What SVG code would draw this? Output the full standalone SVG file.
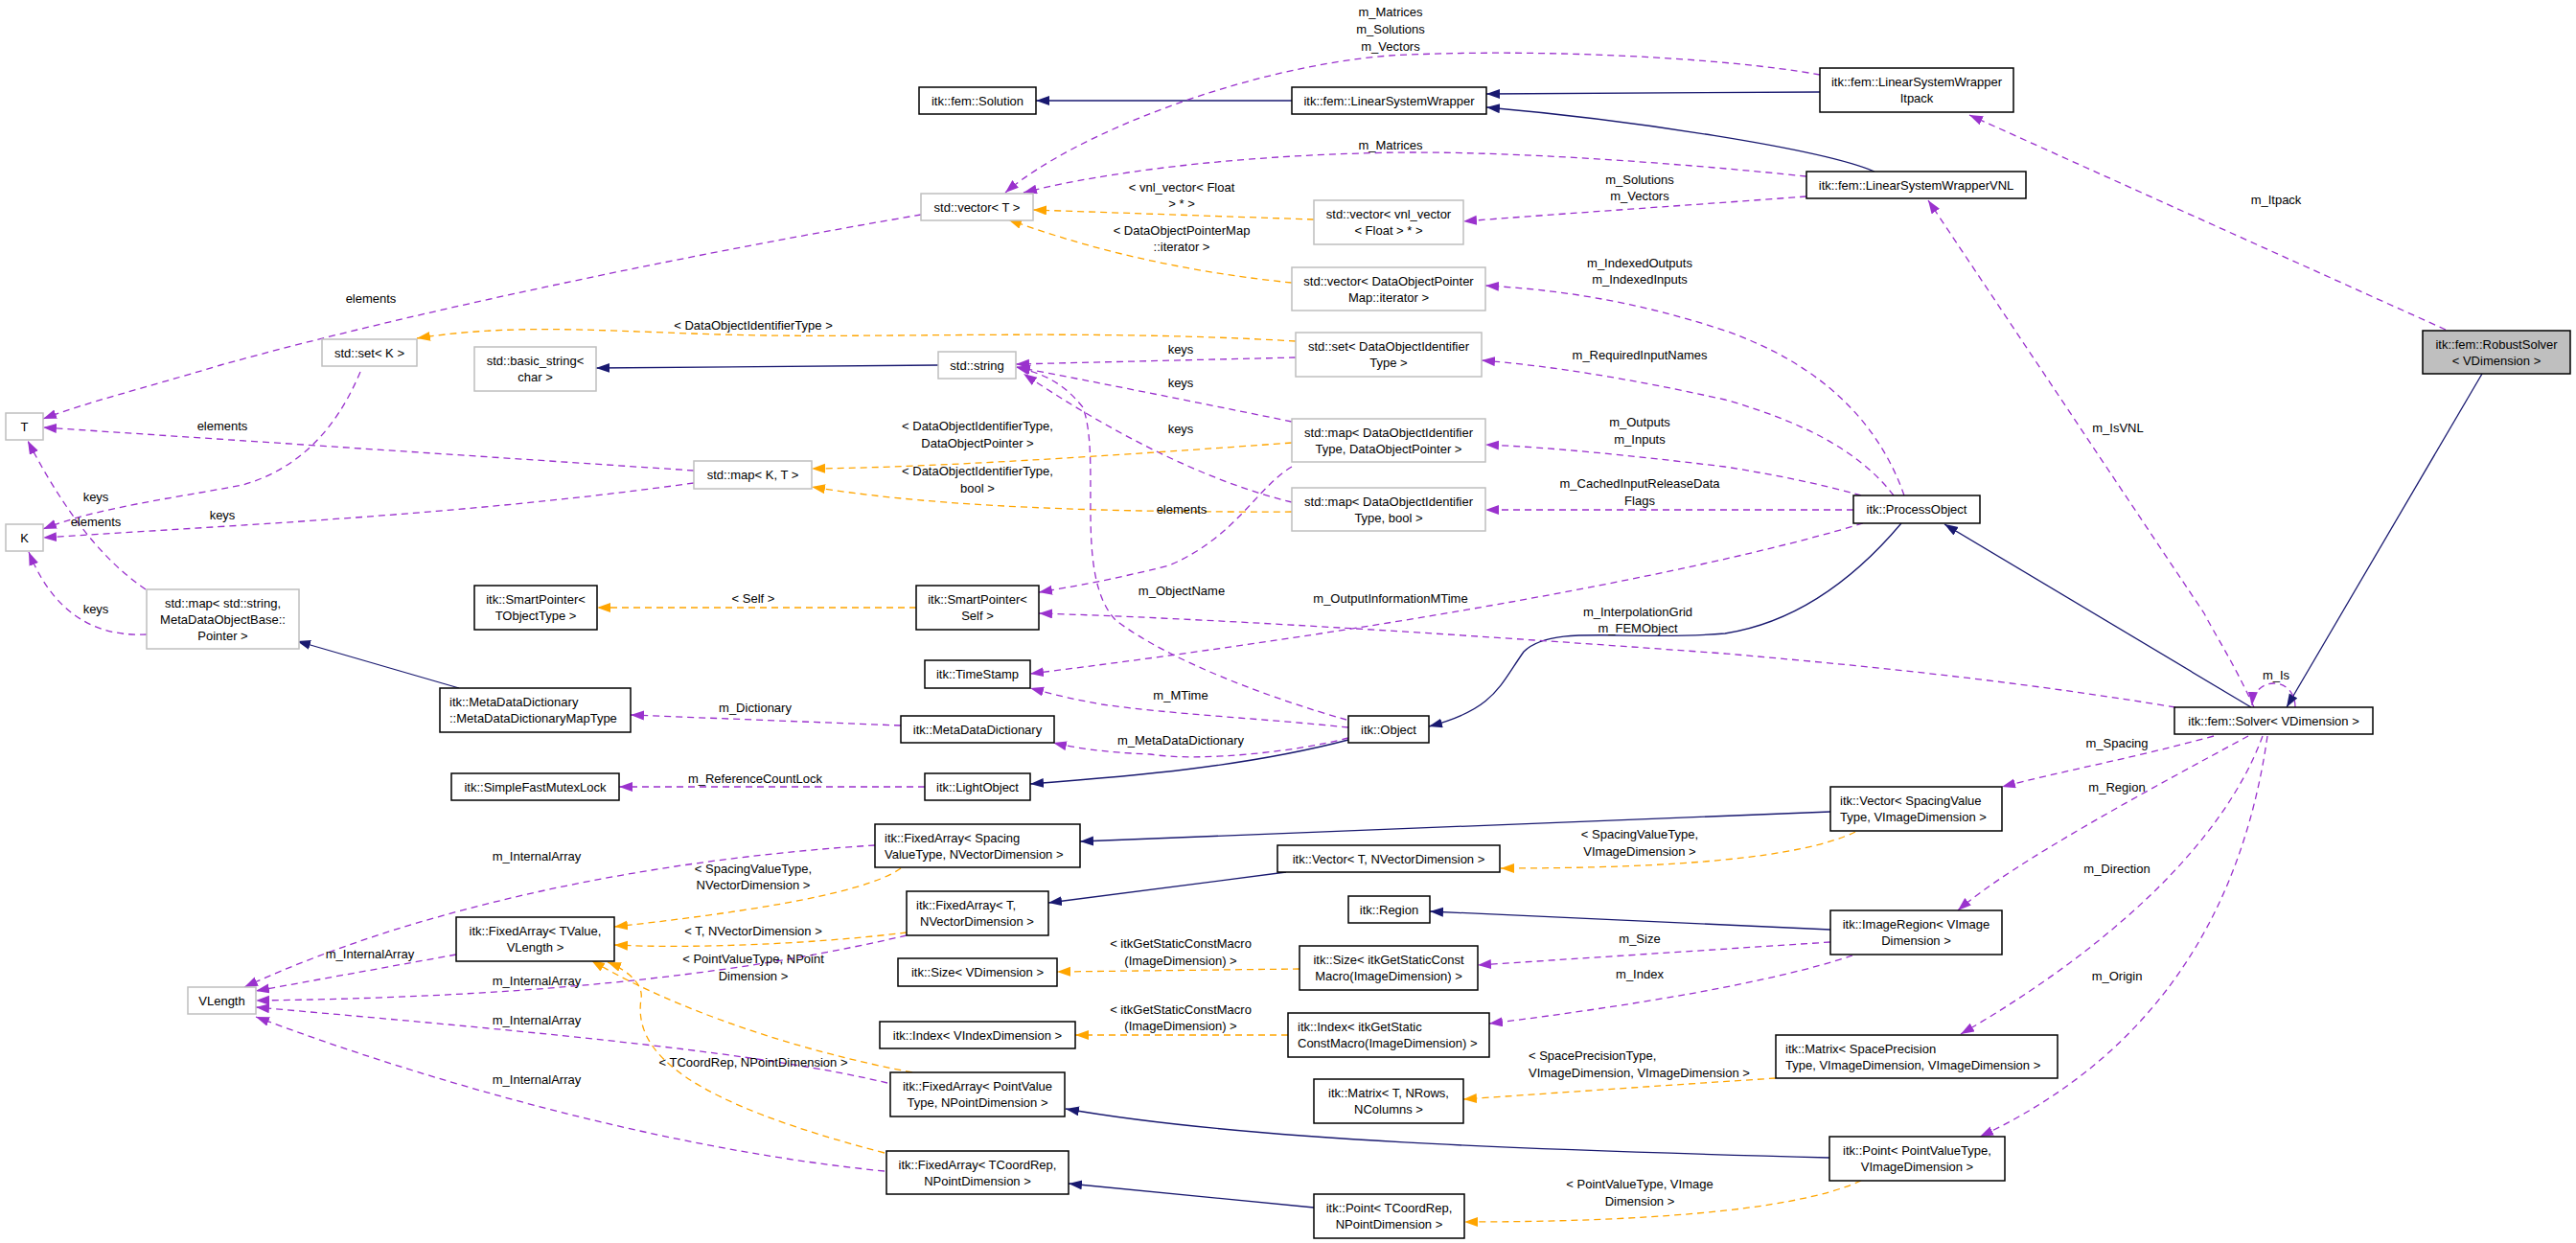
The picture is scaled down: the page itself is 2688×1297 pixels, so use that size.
<svg xmlns="http://www.w3.org/2000/svg" width="2688" height="1297" viewBox="0 0 2688 1297">
<defs>
<marker id="ap" markerUnits="userSpaceOnUse" markerWidth="16" markerHeight="12" refX="14" refY="5" orient="auto"><path d="M0,0 L14,5 L0,10 z" fill="#9a32cd"/></marker>
<marker id="ao" markerUnits="userSpaceOnUse" markerWidth="16" markerHeight="12" refX="14" refY="5" orient="auto"><path d="M0,0 L14,5 L0,10 z" fill="#ffa500"/></marker>
<marker id="an" markerUnits="userSpaceOnUse" markerWidth="16" markerHeight="12" refX="14" refY="5" orient="auto"><path d="M0,0 L14,5 L0,10 z" fill="#191970"/></marker>
</defs>
<style>
text{font-family:"Liberation Sans",Arial,sans-serif;font-size:13px;fill:#000;text-anchor:middle}
.l{text-anchor:start}
.b{fill:#fff;stroke:#000;stroke-width:1.5}
.g{fill:#fff;stroke:#bfbfbf;stroke-width:1.5}
.r{fill:#bfbfbf;stroke:#000;stroke-width:1.5}
.p{fill:none;stroke:#9a32cd;stroke-width:1.3;stroke-dasharray:7,5;marker-end:url(#ap)}
.o{fill:none;stroke:#ffa500;stroke-width:1.3;stroke-dasharray:7,5;marker-end:url(#ao)}
.n{fill:none;stroke:#191970;stroke-width:1.3;marker-end:url(#an)}
</style>
<rect width="2688" height="1297" fill="#fff"/>
<g id="connectors">
<path class="n" d="M1899,96 L1551,98"/>
<path class="n" d="M1956,179 C1900,155 1700,125 1551,112"/>
<path class="n" d="M1348,105 L1081,105"/>
<path class="p" d="M1899,78 C1800,60 1600,50 1450,58 C1300,70 1120,140 1049,201"/>
<path class="p" d="M1885,184 C1750,170 1550,155 1420,160 C1250,165 1130,185 1068,201"/>
<path class="p" d="M1885,205 C1750,215 1600,225 1527,231"/>
<path class="o" d="M1371,229 L1078,219"/>
<path class="o" d="M1348,295 C1250,285 1150,265 1052,229"/>
<path class="p" d="M1987,517 C1960,440 1900,380 1800,345 C1700,312 1620,302 1550,298"/>
<path class="p" d="M1976,517 C1940,470 1880,440 1800,417 C1700,395 1620,382 1546,376"/>
<path class="p" d="M1942,517 C1900,505 1850,495 1800,487 C1700,475 1620,467 1550,464"/>
<path class="p" d="M1934,532 L1550,532"/>
<path class="o" d="M1352,356 C1150,344 950,352 800,350 C650,348 550,335 435,353"/>
<path class="n" d="M979,381 L622,384"/>
<path class="p" d="M1352,373 L1060,380"/>
<path class="p" d="M1348,440 C1250,420 1150,400 1061,383"/>
<path class="p" d="M1348,524 C1250,500 1150,445 1068,390"/>
<path class="o" d="M1348,462 C1100,480 950,488 847,489"/>
<path class="o" d="M1348,534 C1100,535 950,525 847,508"/>
<path class="p" d="M1348,487 C1310,510 1290,560 1220,590 C1160,605 1120,612 1084,618"/>
<path class="p" d="M724,491 L45,446"/>
<path class="p" d="M724,504 C500,535 300,545 45,561"/>
<path class="p" d="M376,388 C350,450 310,490 253,506 C180,520 100,530 45,552"/>
<path class="p" d="M961,224 C750,260 450,320 230,381 C150,405 90,420 45,437"/>
<path class="p" d="M152,615 C100,580 60,520 29,460"/>
<path class="p" d="M153,662 C110,664 60,650 30,576"/>
<path class="o" d="M956,634 L623,634"/>
<path class="n" d="M479,718 L310,669"/>
<path class="p" d="M940,757 L658,746"/>
<path class="p" d="M965,821 L646,821"/>
<path class="n" d="M1407,772 C1300,800 1180,810 1075,818"/>
<path class="p" d="M1407,770 C1350,785 1250,795 1200,787 C1150,785 1120,780 1099,775"/>
<path class="p" d="M1407,759 C1320,750 1220,745 1150,735 C1110,728 1090,722 1075,718"/>
<path class="p" d="M1405,751 C1330,730 1220,690 1164,647 C1120,600 1150,480 1130,425 C1110,400 1090,390 1060,383"/>
<path class="n" d="M1984,546 C1930,610 1870,650 1800,661 C1700,670 1620,650 1590,680 C1565,715 1560,740 1491,758"/>
<path class="p" d="M1944,546 C1800,590 1500,650 1075,703"/>
<path class="p" d="M2270,738 C2100,710 1950,695 1800,682 C1500,660 1250,645 1084,640"/>
<path class="n" d="M2349,738 L2029,547"/>
<path class="n" d="M2590,390 L2386,738"/>
<path class="p" d="M2552,344 L2055,120"/>
<path class="p" d="M2352,738 C2330,690 2310,660 2300,640 L2012,209"/>
<path class="p" d="M2395,738 C2395,705 2352,705 2350,736"/>
<path class="p" d="M2310,768 C2230,790 2150,805 2089,821"/>
<path class="p" d="M2346,768 C2250,820 2100,900 2043,950"/>
<path class="p" d="M2361,768 C2320,880 2200,990 2046,1079"/>
<path class="p" d="M2366,768 C2340,950 2250,1100 2066,1186"/>
<path class="n" d="M1910,847 C1600,860 1300,872 1127,878"/>
<path class="o" d="M1936,868 C1880,895 1750,906 1566,906"/>
<path class="n" d="M1342,910 L1094,942"/>
<path class="o" d="M940,906 C900,935 750,955 641,967"/>
<path class="o" d="M946,973 C850,985 720,990 641,986"/>
<path class="p" d="M913,882 C700,895 450,940 255,1030"/>
<path class="p" d="M476,996 L267,1034"/>
<path class="p" d="M946,976 C800,1010 600,1040 267,1044"/>
<path class="p" d="M926,1130 C800,1100 600,1080 267,1051"/>
<path class="p" d="M923,1222 C700,1200 450,1130 267,1061"/>
<path class="o" d="M952,1119 C800,1090 680,1040 617,1002"/>
<path class="o" d="M923,1203 C720,1150 660,1100 669,1042 C672,1025 650,1010 634,1004"/>
<path class="n" d="M1910,970 L1492,951"/>
<path class="p" d="M1910,983 L1542,1007"/>
<path class="p" d="M1933,997 C1850,1025 1700,1050 1554,1068"/>
<path class="o" d="M1356,1011 L1103,1014"/>
<path class="o" d="M1344,1080 L1122,1080"/>
<path class="o" d="M1853,1125 C1700,1135 1600,1142 1527,1147"/>
<path class="n" d="M1909,1208 C1600,1200 1300,1190 1112,1157"/>
<path class="o" d="M1942,1232 C1870,1265 1700,1275 1528,1275"/>
<path class="n" d="M1371,1260 L1115,1235"/>
</g>
<g id="edge-labels">
<text x="1451" y="17">m_Matrices</text><text x="1451" y="35">m_Solutions</text><text x="1451" y="53">m_Vectors</text>
<text x="1451" y="156">m_Matrices</text>
<text x="1711" y="192">m_Solutions</text><text x="1711" y="209">m_Vectors</text>
<text x="1233" y="200">&lt; vnl_vector&lt; Float</text><text x="1233" y="217">&gt; * &gt;</text>
<text x="1233" y="245">&lt; DataObjectPointerMap</text><text x="1233" y="262">::iterator &gt;</text>
<text x="1711" y="279">m_IndexedOutputs</text><text x="1711" y="296">m_IndexedInputs</text>
<text x="1711" y="375">m_RequiredInputNames</text>
<text x="1711" y="445">m_Outputs</text><text x="1711" y="463">m_Inputs</text>
<text x="1711" y="509">m_CachedInputReleaseData</text><text x="1711" y="527">Flags</text>
<text x="786" y="344">&lt; DataObjectIdentifierType &gt;</text>
<text x="1232" y="369">keys</text><text x="1232" y="404">keys</text><text x="1232" y="452">keys</text>
<text x="1020" y="449">&lt; DataObjectIdentifierType,</text><text x="1020" y="467">DataObjectPointer &gt;</text>
<text x="1020" y="496">&lt; DataObjectIdentifierType,</text><text x="1020" y="514">bool &gt;</text>
<text x="1233" y="536">elements</text>
<text x="232" y="449">elements</text>
<text x="232" y="542">keys</text>
<text x="100" y="523">keys</text><text x="100" y="549">elements</text><text x="100" y="640">keys</text>
<text x="387" y="316">elements</text>
<text x="786" y="629">&lt; Self &gt;</text>
<text x="788" y="743">m_Dictionary</text>
<text x="788" y="817">m_ReferenceCountLock</text>
<text x="1232" y="777">m_MetaDataDictionary</text>
<text x="1232" y="730">m_MTime</text>
<text x="1233" y="621">m_ObjectName</text>
<text x="1451" y="629">m_OutputInformationMTime</text>
<text x="1709" y="643">m_InterpolationGrid</text><text x="1709" y="660">m_FEMObject</text>
<text x="2375" y="213">m_Itpack</text>
<text x="2210" y="451">m_IsVNL</text>
<text x="2375" y="709">m_Is</text>
<text x="2209" y="780">m_Spacing</text>
<text x="2209" y="826">m_Region</text>
<text x="2209" y="911">m_Direction</text>
<text x="2209" y="1023">m_Origin</text>
<text x="1711" y="875">&lt; SpacingValueType,</text><text x="1711" y="893">VImageDimension &gt;</text>
<text x="786" y="911">&lt; SpacingValueType,</text><text x="786" y="928">NVectorDimension &gt;</text>
<text x="786" y="976">&lt; T, NVectorDimension &gt;</text>
<text x="560" y="898">m_InternalArray</text>
<text x="386" y="1000">m_InternalArray</text>
<text x="560" y="1028">m_InternalArray</text>
<text x="560" y="1069">m_InternalArray</text>
<text x="560" y="1131">m_InternalArray</text>
<text x="786" y="1005">&lt; PointValueType, NPoint</text><text x="786" y="1023">Dimension &gt;</text>
<text x="786" y="1113">&lt; TCoordRep, NPointDimension &gt;</text>
<text x="1711" y="984">m_Size</text>
<text x="1711" y="1021">m_Index</text>
<text x="1232" y="989">&lt; itkGetStaticConstMacro</text><text x="1232" y="1007">(ImageDimension) &gt;</text>
<text x="1232" y="1058">&lt; itkGetStaticConstMacro</text><text x="1232" y="1075">(ImageDimension) &gt;</text>
<text class="l" x="1595" y="1106">&lt; SpacePrecisionType,</text><text class="l" x="1595" y="1124">VImageDimension, VImageDimension &gt;</text>
<text x="1711" y="1240">&lt; PointValueType, VImage</text><text x="1711" y="1258">Dimension &gt;</text>
</g>
<g id="n_T"><rect class="g" x="6" y="431" width="39" height="28"/><text x="25.5" y="450">T</text></g>
<g id="n_K"><rect class="g" x="6" y="547" width="39" height="28"/><text x="25.5" y="566">K</text></g>
<g id="n_setK"><rect class="g" x="336" y="354" width="99" height="28"/><text x="385.5" y="373">std::set&lt; K &gt;</text></g>
<g id="n_basic"><rect class="g" x="495" y="362" width="127" height="46"/><text x="558.5" y="381">std::basic_string&lt;</text><text x="558.5" y="398">char &gt;</text></g>
<g id="n_mapKT"><rect class="g" x="724" y="481" width="123" height="29"/><text x="785.5" y="500">std::map&lt; K, T &gt;</text></g>
<g id="n_mapstr"><rect class="g" x="153" y="615" width="159" height="62"/><text x="232.5" y="634">std::map&lt; std::string,</text><text x="232.5" y="651">MetaDataObjectBase::</text><text x="232.5" y="668">Pointer &gt;</text></g>
<g id="n_spT"><rect class="b" x="495" y="611" width="128" height="46"/><text x="559" y="630">itk::SmartPointer&lt;</text><text x="559" y="647">TObjectType &gt;</text></g>
<g id="n_sol"><rect class="b" x="959" y="91" width="122" height="28"/><text x="1020" y="110">itk::fem::Solution</text></g>
<g id="n_lsw"><rect class="b" x="1348" y="91" width="203" height="28"/><text x="1449.5" y="110">itk::fem::LinearSystemWrapper</text></g>
<g id="n_vecT"><rect class="g" x="961" y="202" width="117" height="28"/><text x="1019.5" y="221">std::vector&lt; T &gt;</text></g>
<g id="n_vecvnl"><rect class="g" x="1371" y="209" width="156" height="46"/><text x="1449" y="228">std::vector&lt; vnl_vector</text><text x="1449" y="245">&lt; Float &gt; * &gt;</text></g>
<g id="n_vecdop"><rect class="g" x="1348" y="279" width="202" height="45"/><text x="1449" y="298">std::vector&lt; DataObjectPointer</text><text x="1449" y="315">Map::iterator &gt;</text></g>
<g id="n_setdoi"><rect class="g" x="1352" y="347" width="194" height="46"/><text x="1449" y="366">std::set&lt; DataObjectIdentifier</text><text x="1449" y="383">Type &gt;</text></g>
<g id="n_str"><rect class="g" x="979" y="367" width="81" height="28"/><text x="1019.5" y="386">std::string</text></g>
<g id="n_mapdop"><rect class="g" x="1348" y="437" width="202" height="45"/><text x="1449" y="456">std::map&lt; DataObjectIdentifier</text><text x="1449" y="473">Type, DataObjectPointer &gt;</text></g>
<g id="n_mapbool"><rect class="g" x="1348" y="509" width="202" height="45"/><text x="1449" y="528">std::map&lt; DataObjectIdentifier</text><text x="1449" y="545">Type, bool &gt;</text></g>
<g id="n_spSelf"><rect class="b" x="956" y="611" width="128" height="46"/><text x="1020" y="630">itk::SmartPointer&lt;</text><text x="1020" y="647">Self &gt;</text></g>
<g id="n_itpack"><rect class="b" x="1899" y="71" width="202" height="46"/><text x="2000" y="90">itk::fem::LinearSystemWrapper</text><text x="2000" y="107">Itpack</text></g>
<g id="n_vnl"><rect class="b" x="1885" y="179" width="229" height="28"/><text x="1999.5" y="198">itk::fem::LinearSystemWrapperVNL</text></g>
<g id="n_robust"><rect class="r" x="2528" y="345" width="154" height="45"/><text x="2605" y="364">itk::fem::RobustSolver</text><text x="2605" y="381">&lt; VDimension &gt;</text></g>
<g id="n_po"><rect class="b" x="1934" y="517" width="132" height="29"/><text x="2000" y="536">itk::ProcessObject</text></g>
<g id="n_mdmap"><rect class="b" x="459" y="718" width="199" height="46"/><text class="l" x="469" y="737">itk::MetaDataDictionary</text><text class="l" x="469" y="754">::MetaDataDictionaryMapType</text></g>
<g id="n_mutex"><rect class="b" x="471" y="807" width="175" height="28"/><text x="558.5" y="826">itk::SimpleFastMutexLock</text></g>
<g id="n_fatv"><rect class="b" x="476" y="957" width="165" height="46"/><text x="558.5" y="976">itk::FixedArray&lt; TValue,</text><text x="558.5" y="993">VLength &gt;</text></g>
<g id="n_vlen"><rect class="g" x="196" y="1030" width="71" height="28"/><text x="231.5" y="1049">VLength</text></g>
<g id="n_ts"><rect class="b" x="965" y="689" width="110" height="29"/><text x="1020" y="708">itk::TimeStamp</text></g>
<g id="n_md"><rect class="b" x="940" y="747" width="160" height="28"/><text x="1020" y="766">itk::MetaDataDictionary</text></g>
<g id="n_lo"><rect class="b" x="965" y="807" width="110" height="28"/><text x="1020" y="826">itk::LightObject</text></g>
<g id="n_obj"><rect class="b" x="1407" y="747" width="84" height="28"/><text x="1449" y="766">itk::Object</text></g>
<g id="n_fasp"><rect class="b" x="913" y="860" width="214" height="45"/><text class="l" x="923" y="879">itk::FixedArray&lt; Spacing</text><text class="l" x="923" y="896">ValueType, NVectorDimension &gt;</text></g>
<g id="n_vecTN"><rect class="b" x="1333" y="882" width="232" height="28"/><text x="1449" y="901">itk::Vector&lt; T, NVectorDimension &gt;</text></g>
<g id="n_faT"><rect class="b" x="946" y="930" width="148" height="46"/><text class="l" x="956" y="949">itk::FixedArray&lt; T,</text><text class="l" x="960" y="966">NVectorDimension &gt;</text></g>
<g id="n_region"><rect class="b" x="1407" y="935" width="85" height="28"/><text x="1449.5" y="954">itk::Region</text></g>
<g id="n_sizeV"><rect class="b" x="937" y="1000" width="166" height="29"/><text x="1020" y="1019">itk::Size&lt; VDimension &gt;</text></g>
<g id="n_sizeI"><rect class="b" x="1356" y="987" width="186" height="46"/><text x="1449" y="1006">itk::Size&lt; itkGetStaticConst</text><text x="1449" y="1023">Macro(ImageDimension) &gt;</text></g>
<g id="n_idxV"><rect class="b" x="918" y="1066" width="204" height="28"/><text x="1020" y="1085">itk::Index&lt; VIndexDimension &gt;</text></g>
<g id="n_idxI"><rect class="b" x="1344" y="1057" width="210" height="46"/><text class="l" x="1354" y="1076">itk::Index&lt; itkGetStatic</text><text class="l" x="1354" y="1093">ConstMacro(ImageDimension) &gt;</text></g>
<g id="n_fapv"><rect class="b" x="929" y="1119" width="182" height="46"/><text x="1020" y="1138">itk::FixedArray&lt; PointValue</text><text x="1020" y="1155">Type, NPointDimension &gt;</text></g>
<g id="n_matT"><rect class="b" x="1371" y="1126" width="156" height="46"/><text x="1449" y="1145">itk::Matrix&lt; T, NRows,</text><text x="1449" y="1162">NColumns &gt;</text></g>
<g id="n_fatc"><rect class="b" x="925" y="1201" width="190" height="45"/><text x="1020" y="1220">itk::FixedArray&lt; TCoordRep,</text><text x="1020" y="1237">NPointDimension &gt;</text></g>
<g id="n_ptTC"><rect class="b" x="1371" y="1246" width="157" height="46"/><text x="1449.5" y="1265">itk::Point&lt; TCoordRep,</text><text x="1449.5" y="1282">NPointDimension &gt;</text></g>
<g id="n_solver"><rect class="b" x="2269" y="738" width="207" height="28"/><text x="2372.5" y="757">itk::fem::Solver&lt; VDimension &gt;</text></g>
<g id="n_vecSV"><rect class="b" x="1910" y="821" width="179" height="46"/><text class="l" x="1920" y="840">itk::Vector&lt; SpacingValue</text><text class="l" x="1920" y="857">Type, VImageDimension &gt;</text></g>
<g id="n_imreg"><rect class="b" x="1910" y="950" width="179" height="46"/><text x="1999.5" y="969">itk::ImageRegion&lt; VImage</text><text x="1999.5" y="986">Dimension &gt;</text></g>
<g id="n_matSP"><rect class="b" x="1853" y="1080" width="294" height="45"/><text class="l" x="1863" y="1099">itk::Matrix&lt; SpacePrecision</text><text class="l" x="1863" y="1116">Type, VImageDimension, VImageDimension &gt;</text></g>
<g id="n_ptPV"><rect class="b" x="1909" y="1186" width="183" height="46"/><text x="2000.5" y="1205">itk::Point&lt; PointValueType,</text><text x="2000.5" y="1222">VImageDimension &gt;</text></g>
</svg>
